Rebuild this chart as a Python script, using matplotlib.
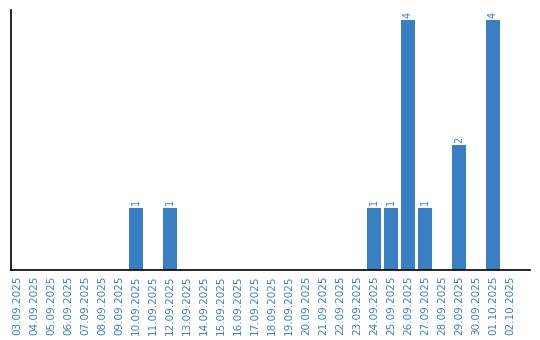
import matplotlib
matplotlib.use("Agg")
import matplotlib.pyplot as plt

dates = [
    "03.09.2025", "04.09.2025", "05.09.2025", "06.09.2025", "07.09.2025",
    "08.09.2025", "09.09.2025", "10.09.2025", "11.09.2025", "12.09.2025",
    "13.09.2025", "14.09.2025", "15.09.2025", "16.09.2025", "17.09.2025",
    "18.09.2025", "19.09.2025", "20.09.2025", "21.09.2025", "22.09.2025",
    "23.09.2025", "24.09.2025", "25.09.2025", "26.09.2025", "27.09.2025",
    "28.09.2025", "29.09.2025", "30.09.2025", "01.10.2025", "02.10.2025",
]
counts = [0, 0, 0, 0, 0, 0, 0, 1, 0, 1,
          0, 0, 0, 0, 0, 0, 0, 0, 0, 0,
          0, 1, 1, 4, 1, 0, 2, 0, 4, 0]

bar_color = "#3a7ec4"

fig = plt.figure(figsize=(5.4, 3.4), dpi=100)
ax = fig.add_axes([11 / 540, 70 / 340, 519 / 540, 260 / 340])

x = list(range(len(dates)))
bars = ax.bar(x, counts, width=0.82, color=bar_color)

for xi, v in zip(x, counts):
    if v > 0:
        ax.text(xi, v + 0.04, str(v), rotation=90, ha="center", va="bottom",
                fontsize=7, color=bar_color)

ax.set_xlim(-0.35, 30.18)
ax.set_ylim(0, 4.16)
ax.set_xticks(x)
ax.set_xticklabels(dates, rotation=90, fontsize=7.5, color=bar_color)
ax.tick_params(axis="x", length=0, pad=4)
ax.set_yticks([])
ax.spines["top"].set_visible(False)
ax.spines["right"].set_visible(False)
ax.spines["left"].set_linewidth(1.2)
ax.spines["bottom"].set_linewidth(1.2)

fig.savefig("out.png", dpi=100)
